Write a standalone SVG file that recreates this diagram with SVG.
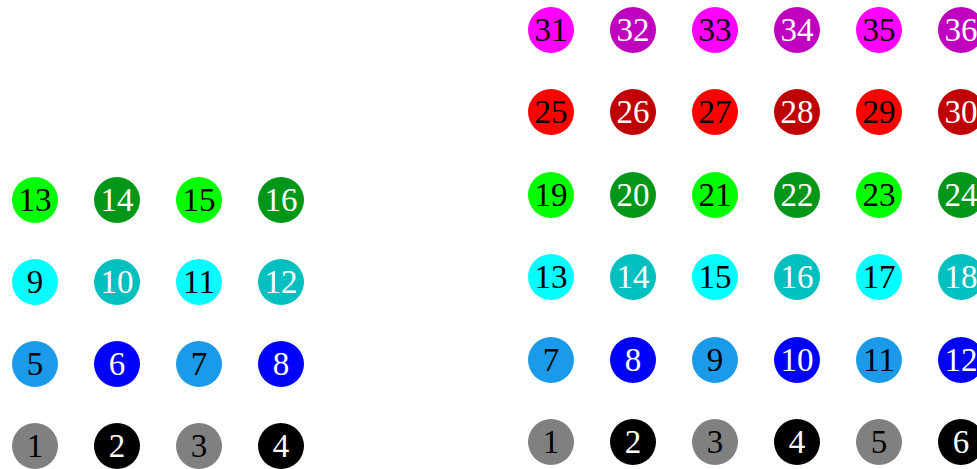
<svg xmlns="http://www.w3.org/2000/svg" width="977" height="469" viewBox="0 0 977 469">
<style>
text{font-family:"Liberation Serif","DejaVu Serif",serif;font-size:33px;text-anchor:middle}
.tb{fill:#000}.tw{fill:#fff}
.gray{fill:#808080}.blk{fill:#000}
.lb{fill:#1a9ae8}.bl{fill:#0000ff}
.cy{fill:#00ffff}.dc{fill:#00bfbf}
.gr{fill:#00ff00}.dg{fill:#009618}
.rd{fill:#ff0000}.dr{fill:#bf0000}
.mg{fill:#ff00ff}.dm{fill:#bf00bf}
</style>
<rect width="977" height="469" fill="#fff"/>
<g id="connectors"/>
<g id="left">
<g id="L1"><circle class="gray" cx="35" cy="446" r="23"/><text class="tb" x="35" y="457">1</text></g>
<g id="L2"><circle class="blk" cx="117" cy="446" r="23"/><text class="tw" x="117" y="457">2</text></g>
<g id="L3"><circle class="gray" cx="199" cy="446" r="23"/><text class="tb" x="199" y="457">3</text></g>
<g id="L4"><circle class="blk" cx="281" cy="446" r="23"/><text class="tw" x="281" y="457">4</text></g>
<g id="L5"><circle class="lb" cx="35" cy="364" r="23"/><text class="tb" x="35" y="375">5</text></g>
<g id="L6"><circle class="bl" cx="117" cy="364" r="23"/><text class="tw" x="117" y="375">6</text></g>
<g id="L7"><circle class="lb" cx="199" cy="364" r="23"/><text class="tb" x="199" y="375">7</text></g>
<g id="L8"><circle class="bl" cx="281" cy="364" r="23"/><text class="tw" x="281" y="375">8</text></g>
<g id="L9"><circle class="cy" cx="35" cy="282" r="23"/><text class="tb" x="35" y="293">9</text></g>
<g id="L10"><circle class="dc" cx="117" cy="282" r="23"/><text class="tw" x="117" y="293">10</text></g>
<g id="L11"><circle class="cy" cx="199" cy="282" r="23"/><text class="tb" x="199" y="293">11</text></g>
<g id="L12"><circle class="dc" cx="281" cy="282" r="23"/><text class="tw" x="281" y="293">12</text></g>
<g id="L13"><circle class="gr" cx="35" cy="200" r="23"/><text class="tb" x="35" y="211">13</text></g>
<g id="L14"><circle class="dg" cx="117" cy="200" r="23"/><text class="tw" x="117" y="211">14</text></g>
<g id="L15"><circle class="gr" cx="199" cy="200" r="23"/><text class="tb" x="199" y="211">15</text></g>
<g id="L16"><circle class="dg" cx="281" cy="200" r="23"/><text class="tw" x="281" y="211">16</text></g>
</g>
<g id="right">
<g id="R1"><circle class="gray" cx="551" cy="442" r="23"/><text class="tb" x="551" y="453">1</text></g>
<g id="R2"><circle class="blk" cx="633" cy="442" r="23"/><text class="tw" x="633" y="453">2</text></g>
<g id="R3"><circle class="gray" cx="715" cy="442" r="23"/><text class="tb" x="715" y="453">3</text></g>
<g id="R4"><circle class="blk" cx="797" cy="442" r="23"/><text class="tw" x="797" y="453">4</text></g>
<g id="R5"><circle class="gray" cx="879" cy="442" r="23"/><text class="tb" x="879" y="453">5</text></g>
<g id="R6"><circle class="blk" cx="961" cy="442" r="23"/><text class="tw" x="961" y="453">6</text></g>
<g id="R7"><circle class="lb" cx="551" cy="360" r="23"/><text class="tb" x="551" y="371">7</text></g>
<g id="R8"><circle class="bl" cx="633" cy="360" r="23"/><text class="tw" x="633" y="371">8</text></g>
<g id="R9"><circle class="lb" cx="715" cy="360" r="23"/><text class="tb" x="715" y="371">9</text></g>
<g id="R10"><circle class="bl" cx="797" cy="360" r="23"/><text class="tw" x="797" y="371">10</text></g>
<g id="R11"><circle class="lb" cx="879" cy="360" r="23"/><text class="tb" x="879" y="371">11</text></g>
<g id="R12"><circle class="bl" cx="961" cy="360" r="23"/><text class="tw" x="961" y="371">12</text></g>
<g id="R13"><circle class="cy" cx="551" cy="277" r="23"/><text class="tb" x="551" y="288">13</text></g>
<g id="R14"><circle class="dc" cx="633" cy="277" r="23"/><text class="tw" x="633" y="288">14</text></g>
<g id="R15"><circle class="cy" cx="715" cy="277" r="23"/><text class="tb" x="715" y="288">15</text></g>
<g id="R16"><circle class="dc" cx="797" cy="277" r="23"/><text class="tw" x="797" y="288">16</text></g>
<g id="R17"><circle class="cy" cx="879" cy="277" r="23"/><text class="tb" x="879" y="288">17</text></g>
<g id="R18"><circle class="dc" cx="961" cy="277" r="23"/><text class="tw" x="961" y="288">18</text></g>
<g id="R19"><circle class="gr" cx="551" cy="195" r="23"/><text class="tb" x="551" y="206">19</text></g>
<g id="R20"><circle class="dg" cx="633" cy="195" r="23"/><text class="tw" x="633" y="206">20</text></g>
<g id="R21"><circle class="gr" cx="715" cy="195" r="23"/><text class="tb" x="715" y="206">21</text></g>
<g id="R22"><circle class="dg" cx="797" cy="195" r="23"/><text class="tw" x="797" y="206">22</text></g>
<g id="R23"><circle class="gr" cx="879" cy="195" r="23"/><text class="tb" x="879" y="206">23</text></g>
<g id="R24"><circle class="dg" cx="961" cy="195" r="23"/><text class="tw" x="961" y="206">24</text></g>
<g id="R25"><circle class="rd" cx="551" cy="112" r="23"/><text class="tb" x="551" y="123">25</text></g>
<g id="R26"><circle class="dr" cx="633" cy="112" r="23"/><text class="tw" x="633" y="123">26</text></g>
<g id="R27"><circle class="rd" cx="715" cy="112" r="23"/><text class="tb" x="715" y="123">27</text></g>
<g id="R28"><circle class="dr" cx="797" cy="112" r="23"/><text class="tw" x="797" y="123">28</text></g>
<g id="R29"><circle class="rd" cx="879" cy="112" r="23"/><text class="tb" x="879" y="123">29</text></g>
<g id="R30"><circle class="dr" cx="961" cy="112" r="23"/><text class="tw" x="961" y="123">30</text></g>
<g id="R31"><circle class="mg" cx="551" cy="30" r="23"/><text class="tb" x="551" y="41">31</text></g>
<g id="R32"><circle class="dm" cx="633" cy="30" r="23"/><text class="tw" x="633" y="41">32</text></g>
<g id="R33"><circle class="mg" cx="715" cy="30" r="23"/><text class="tb" x="715" y="41">33</text></g>
<g id="R34"><circle class="dm" cx="797" cy="30" r="23"/><text class="tw" x="797" y="41">34</text></g>
<g id="R35"><circle class="mg" cx="879" cy="30" r="23"/><text class="tb" x="879" y="41">35</text></g>
<g id="R36"><circle class="dm" cx="961" cy="30" r="23"/><text class="tw" x="961" y="41">36</text></g>
</g>
</svg>
